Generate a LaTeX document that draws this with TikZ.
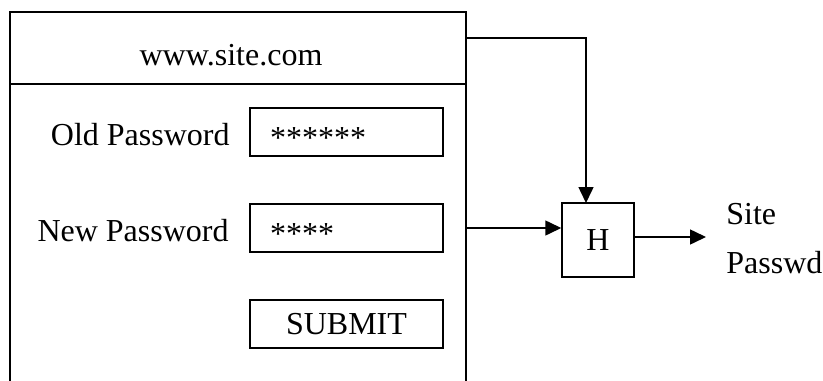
\documentclass[tikz,border=0pt]{standalone}
\usepackage{fontspec}
\setmainfont{Liberation Serif}
\usetikzlibrary{arrows.meta}
\begin{document}
\begin{tikzpicture}[x=0.5pt,y=-0.5pt,
  every node/.style={font=\fontsize{16}{19}\selectfont, inner sep=0pt},
  fieldbox/.style={draw, line width=0.75pt, minimum width=96.5pt, minimum height=24pt,
    text width=76.5pt, align=left, inner xsep=10pt, text height=18pt, text depth=2pt},
  lbl/.style={anchor=base east},
  arr/.style={line width=0.75pt, -{Triangle[length=8pt,width=7.5pt]}}]
\useasboundingbox (0,0) rectangle (823,380);
% outer window
\draw[line width=1pt] (10,381) -- (10,12) -- (466,12) -- (466,381);
\draw[line width=1pt] (10,84) -- (466,84);
\node[anchor=base] (title) at (231,65) {www.site.com};
\coordinate (tr) at (466,38);
\coordinate (nr) at (466,228);
% fields
\node[lbl] (oldl) at (230,145) {Old Password};
\node[fieldbox] (oldf) at (346.5,132) {******};
\node[lbl] (newl) at (229,241) {New Password};
\node[fieldbox] (newf) at (346.5,228) {****};
\node[draw, line width=0.75pt, minimum width=96.5pt, minimum height=24pt] (sub) at (346.5,324) {SUBMIT};
% hash box
\node[draw, line width=0.75pt, minimum width=36pt, minimum height=37pt] (H) at (598,240) {H};
\node[anchor=base west] (site) at (726,224) {Site};
\node[anchor=base west] (pw) at (726,273) {Passwd};
\coordinate (out) at (706,237);
% connectors
\draw[line width=0.75pt] (tr) -- (586,38);
\draw[arr] (586,37) -- (586,203);
\draw[arr] (nr) -- (H.west |- nr);
\draw[arr] (H.east |- out) -- (out);
\end{tikzpicture}
\end{document}
